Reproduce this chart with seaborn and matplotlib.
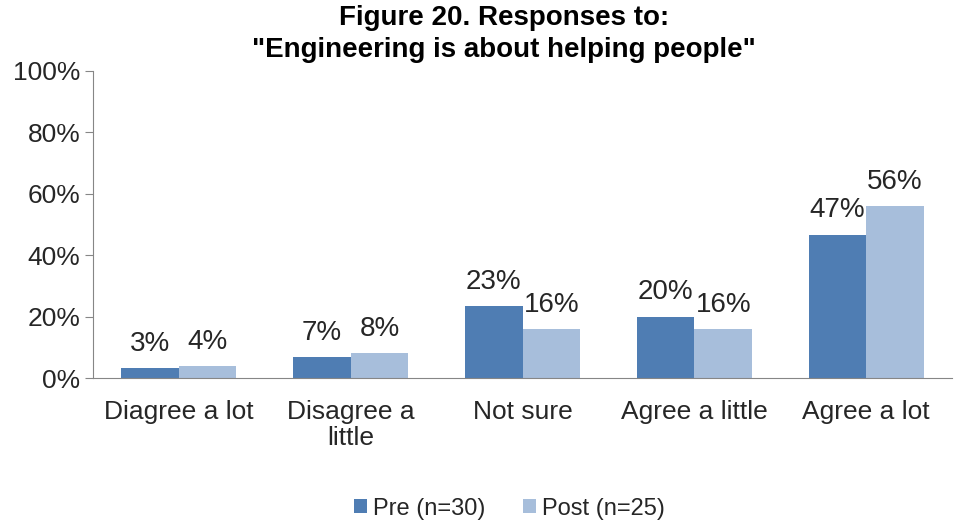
import matplotlib
matplotlib.use("Agg")
import matplotlib.pyplot as plt
import seaborn as sns
import pandas as pd

categories = ["Diagree a lot", "Disagree a\nlittle", "Not sure", "Agree a little", "Agree a lot"]
pre = [3.3, 6.7, 23.3, 20.0, 46.7]
post = [4.0, 8.0, 16.0, 16.0, 56.0]
series = ["Pre (n=30)", "Post (n=25)"]

df = pd.DataFrame({
    "category": categories * 2,
    "value": pre + post,
    "group": [series[0]] * 5 + [series[1]] * 5,
})

sns.set_style("white")
plt.rcParams["font.family"] = ["Liberation Sans", "DejaVu Sans"]
TXT = "#262626"

fig = plt.figure(figsize=(9.57, 5.25), dpi=100)
ax = fig.add_axes([0.097, 0.28, 0.898, 0.585])

sns.barplot(data=df, x="category", y="value", hue="group", order=categories,
            palette=["#4F7DB3", "#A7BEDB"], width=0.67, ax=ax, saturation=1,
            linewidth=0, edgecolor="none")

for cont in ax.containers:
    ax.bar_label(cont, labels=[f"{v:.0f}%" for v in cont.datavalues],
                 padding=8, fontsize=20, color=TXT)

ax.set_ylim(0, 100)
ax.set_yticks(range(0, 101, 20))
ax.set_yticklabels([f"{t}%" for t in range(0, 101, 20)], fontsize=19, color=TXT)
ax.tick_params(axis="x", labelsize=19, colors=TXT, length=0, pad=16)
ax.tick_params(axis="y", length=6, color="#868686", left=True, pad=3)
for lbl in ax.get_xticklabels():
    lbl.set_linespacing(1.1)
ax.set_xlabel("")
ax.set_ylabel("")
for s in ["top", "right"]:
    ax.spines[s].set_visible(False)
ax.spines["left"].set_color("#868686")
ax.spines["bottom"].set_color("#868686")
ax.set_xlim(-0.5, 4.5)

fig.suptitle('Figure 20. Responses to:\n"Engineering is about helping people"',
             x=0.527, y=0.99, fontsize=20, fontweight="bold", color="black",
             linespacing=1.3)

handles, labels = ax.get_legend_handles_labels()
ax.legend(handles, labels, loc="center", bbox_to_anchor=(0.485, -0.425),
          ncol=2, frameon=False, fontsize=17, handlelength=0.55, handleheight=0.55,
          handletextpad=0.25, columnspacing=1.6, labelcolor=TXT)

fig.savefig("out.png", dpi=100)
